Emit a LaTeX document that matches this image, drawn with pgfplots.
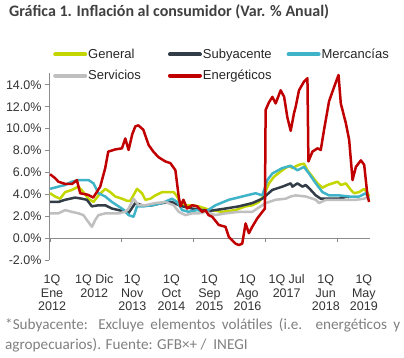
\documentclass[border=0pt]{standalone}
\usepackage{fontspec}
\setmainfont{Liberation Sans}
\newfontfamily\calib{Carlito}
\usepackage{pgfplots}
\pgfplotsset{compat=1.18}
\definecolor{cgen}{HTML}{C4D600}
\definecolor{csub}{HTML}{333D47}
\definecolor{cmer}{HTML}{3FB3C8}
\definecolor{cser}{HTML}{BFBFBF}
\definecolor{cene}{HTML}{C00000}
\definecolor{axgray}{HTML}{8C8C8C}
\definecolor{titgray}{HTML}{404040}
\definecolor{notegray}{HTML}{808080}
\begin{document}
\begin{tikzpicture}
\useasboundingbox (0pt,0pt) rectangle (404pt,358pt);
\begin{axis}[
  at={(49pt,98pt)}, anchor=south west,
  scale only axis, width=321pt, height=187.2pt,
  xmin=-0.3, xmax=88.3, ymin=-2, ymax=15.1,
  axis y line*=left, axis x line*=middle,
  hide obscured x ticks=false,
  axis line style={draw=axgray, line width=0.8pt},
  tick align=outside, major tick length=4pt,
  tick style={draw=axgray, line width=0.8pt},
  xtick={0,19.8,39.6,59.4,79.2}, xticklabels={},
  extra x ticks={0.55,12.2,22.7,33.5,44.0,54.5,65.3,76.1,86.6},
  extra x tick labels={1Q\\Ene\\2012,1Q Dic\\2012,1Q\\Nov\\2013,1Q\\Oct\\2014,1Q\\Sep\\2015,1Q\\Ago\\2016,1Q Jul\\2017,1Q\\Jun\\2018,1Q\\May\\2019},
  extra x tick style={major tick length=0pt,
    xticklabel style={align=center, yshift=-33pt, font=\fontsize{12.5}{13.5}\selectfont, text=black!80,
      execute at begin node={\baselineskip=13.7pt}}},
  ytick={-2,0,2,4,6,8,10,12,14},
  /pgf/number format/assume math mode=true,
  yticklabel={\pgfmathprintnumber[fixed,fixed zerofill,precision=1]{\tick}\%},
  yticklabel style={font=\fontsize{12.5}{14}\selectfont, text=black!80},
  every axis plot/.append style={line width=2.5pt, line join=round, mark=none},
  legend columns=3,
  legend image code/.code={\draw[#1,line width=4pt,line cap=round] (1pt,0pt) -- (31pt,0pt);},
  legend style={at={(0.0125,1.134)}, anchor=north west, draw=none, fill=none,
    inner sep=0pt, font=\fontsize{13}{15}\selectfont, text=black!85,
    row sep=8pt,
    nodes={inner sep=1pt},
    /tikz/column 2/.style={column sep=26pt},
    /tikz/column 4/.style={column sep=14pt}},
  legend cell align=left,
]
\addplot[cgen] table {
0 4.1
1.38 3.8
2.77 3.6
4.15 4.2
6.00 4.4
7.83 4.7
9.21 4.2
10.60 3.6
11.98 3.3
13.36 3.9
15.22 4.5
16.60 4.2
17.99 3.8
19.84 3.6
21.31 3.4
22.14 3.4
23.99 4.5
25.37 4.1
26.29 3.5
27.67 3.6
29.06 3.9
30.91 4.2
32.73 4.2
34.12 4.2
35.06 3.8
35.97 3.2
37.35 3.0
39.21 3.0
41.03 2.9
42.89 2.7
44.27 2.56
47.51 2.4
51.19 2.56
53.96 2.9
55.81 3.0
57.64 3.3
59.02 3.9
60.41 5.0
61.79 5.6
64.11 6.2
65.94 6.6
66.88 6.4
68.70 6.7
70.09 6.8
71.03 6.2
72.41 5.6
73.80 5.0
75.18 4.6
76.56 4.85
77.95 5.0
79.33 5.15
80.24 4.85
81.63 5.0
83.01 4.4
83.93 4.1
85.31 4.2
86.69 4.5
87.63 4.1
88.07 3.8
};
\addlegendentry{General}
\addplot[csub] table {
0 3.3
2.30 3.3
4.15 3.5
6.92 3.7
8.77 3.6
10.15 3.5
11.54 2.9
13.36 3.0
15.22 3.0
17.07 2.7
18.90 2.56
20.75 2.4
21.67 2.3
23.52 3.2
25.37 3.0
28.14 3.0
30.91 3.2
33.67 3.3
34.12 3.2
36.44 2.9
39.21 2.7
41.98 2.56
44.27 2.5
48.42 2.7
52.10 2.9
55.81 3.2
58.58 3.6
61.35 4.4
64.11 4.7
66.41 5.0
66.88 4.7
68.26 5.0
69.64 4.7
70.56 4.85
71.94 4.4
73.33 3.9
74.71 3.6
77.00 3.6
79.77 3.6
82.10 3.8
82.54 3.7
};
\addlegendentry{Subyacente}
\addplot[cmer] table {
0 4.5
2.30 4.7
4.15 4.85
6.00 5.15
7.83 5.3
10.60 5.3
11.98 5.0
13.36 4.1
15.22 3.8
17.07 3.3
18.90 2.9
20.28 2.6
21.67 2.1
23.05 1.95
23.99 2.9
25.82 2.9
28.14 3.0
30.91 3.2
33.67 3.6
35.06 3.3
36.44 2.56
38.27 2.4
40.59 2.56
42.89 2.4
44.27 2.7
45.66 3.0
49.34 3.5
53.04 3.8
56.72 4.1
58.58 3.9
59.96 5.3
61.35 5.9
64.11 6.4
66.41 6.6
68.26 6.2
70.09 6.5
71.47 5.9
73.33 5.0
75.18 4.2
77.00 3.9
79.77 3.9
82.54 3.8
85.31 3.8
87.16 4.1
88.07 3.6
};
\addlegendentry{Mercancías}
\addplot[cser] table {
0 2.26
2.30 2.26
4.15 2.56
6.00 2.4
7.83 2.26
9.21 2.1
10.15 1.65
11.54 1.03
12.45 1.65
13.36 2.1
15.22 2.26
18.90 2.26
20.75 2.4
21.67 2.7
23.05 3.6
24.43 3.0
26.29 3.0
29.06 3.2
31.82 3.3
34.12 3.0
35.50 2.4
37.35 2.1
39.21 2.26
41.03 2.26
42.89 2.4
44.27 2.26
45.66 2.1
48.42 2.26
52.10 2.4
55.81 2.4
59.49 3.2
62.26 3.5
65.02 3.6
66.41 3.8
67.79 3.9
70.56 3.8
73.33 3.5
74.24 3.2
76.09 3.5
78.86 3.5
81.63 3.5
84.40 3.5
86.69 3.6
88.07 3.8
};
\addlegendentry{Servicios}
\addplot[cene] table {
0 5.83
1.3 5.5
2.30 5.15
4.15 4.95
6.09 4.95
7.39 5.3
8.30 4.1
10.51 3.95
11.90 3.7
13.84 4.7
15.22 6.4
16.05 7.9
17.99 8.1
19.84 8.2
20.75 9.1
21.67 8.05
22.69 9.5
23.52 10.2
24.35 10.3
25.73 9.9
27.20 8.5
28.50 7.9
29.88 7.4
31.82 7.0
33.20 6.85
34.59 6.2
35.50 3.8
35.97 2.9
36.80 3.5
37.82 2.7
39.21 3.0
40.59 2.9
41.98 2.4
42.89 2.56
43.72 2.1
44.74 1.95
46.57 1.2
48.42 1.03
49.34 0.1
50.28 -0.2
51.19 -0.5
52.10 -0.64
53.04 -0.5
53.96 1.34
54.87 0.45
55.81 1.04
57.19 1.8
58.58 2.4
59.30 2.7
59.49 11.7
60.41 12.4
61.35 12.9
62.26 12.3
63.64 13.5
64.60 12.9
65.50 11.0
66.41 9.8
67.32 11.4
67.79 12.0
68.70 13.5
70.09 14.3
71.03 14.6
71.30 7.0
72.41 7.9
73.80 8.2
74.71 8.05
75.62 9.9
77.00 12.5
78.39 13.8
79.61 14.9
80.24 12.3
81.63 10.5
82.54 9.0
83.48 5.3
84.40 6.5
85.78 7.1
86.69 6.7
87.63 3.8
88.07 3.3
};
\addlegendentry{Energéticos}
\end{axis}
\node[anchor=base west, inner sep=0pt, text=titgray, font=\calib\bfseries\fontsize{16}{18}\selectfont] at (9pt,341pt) {Gráfica 1. Inflación al consumidor (Var. \% Anual)};
\node[anchor=north west, inner sep=0pt, text width=395pt, align=justify, text=notegray, font=\calib\fontsize{15.2}{20}\selectfont] at (5pt,40pt) {*Subyacente: Excluye elementos volátiles (i.e. energéticos y\linebreak agropecuarios). Fuente: GFB×+ /\ \ INEGI};
\end{tikzpicture}
\end{document}
